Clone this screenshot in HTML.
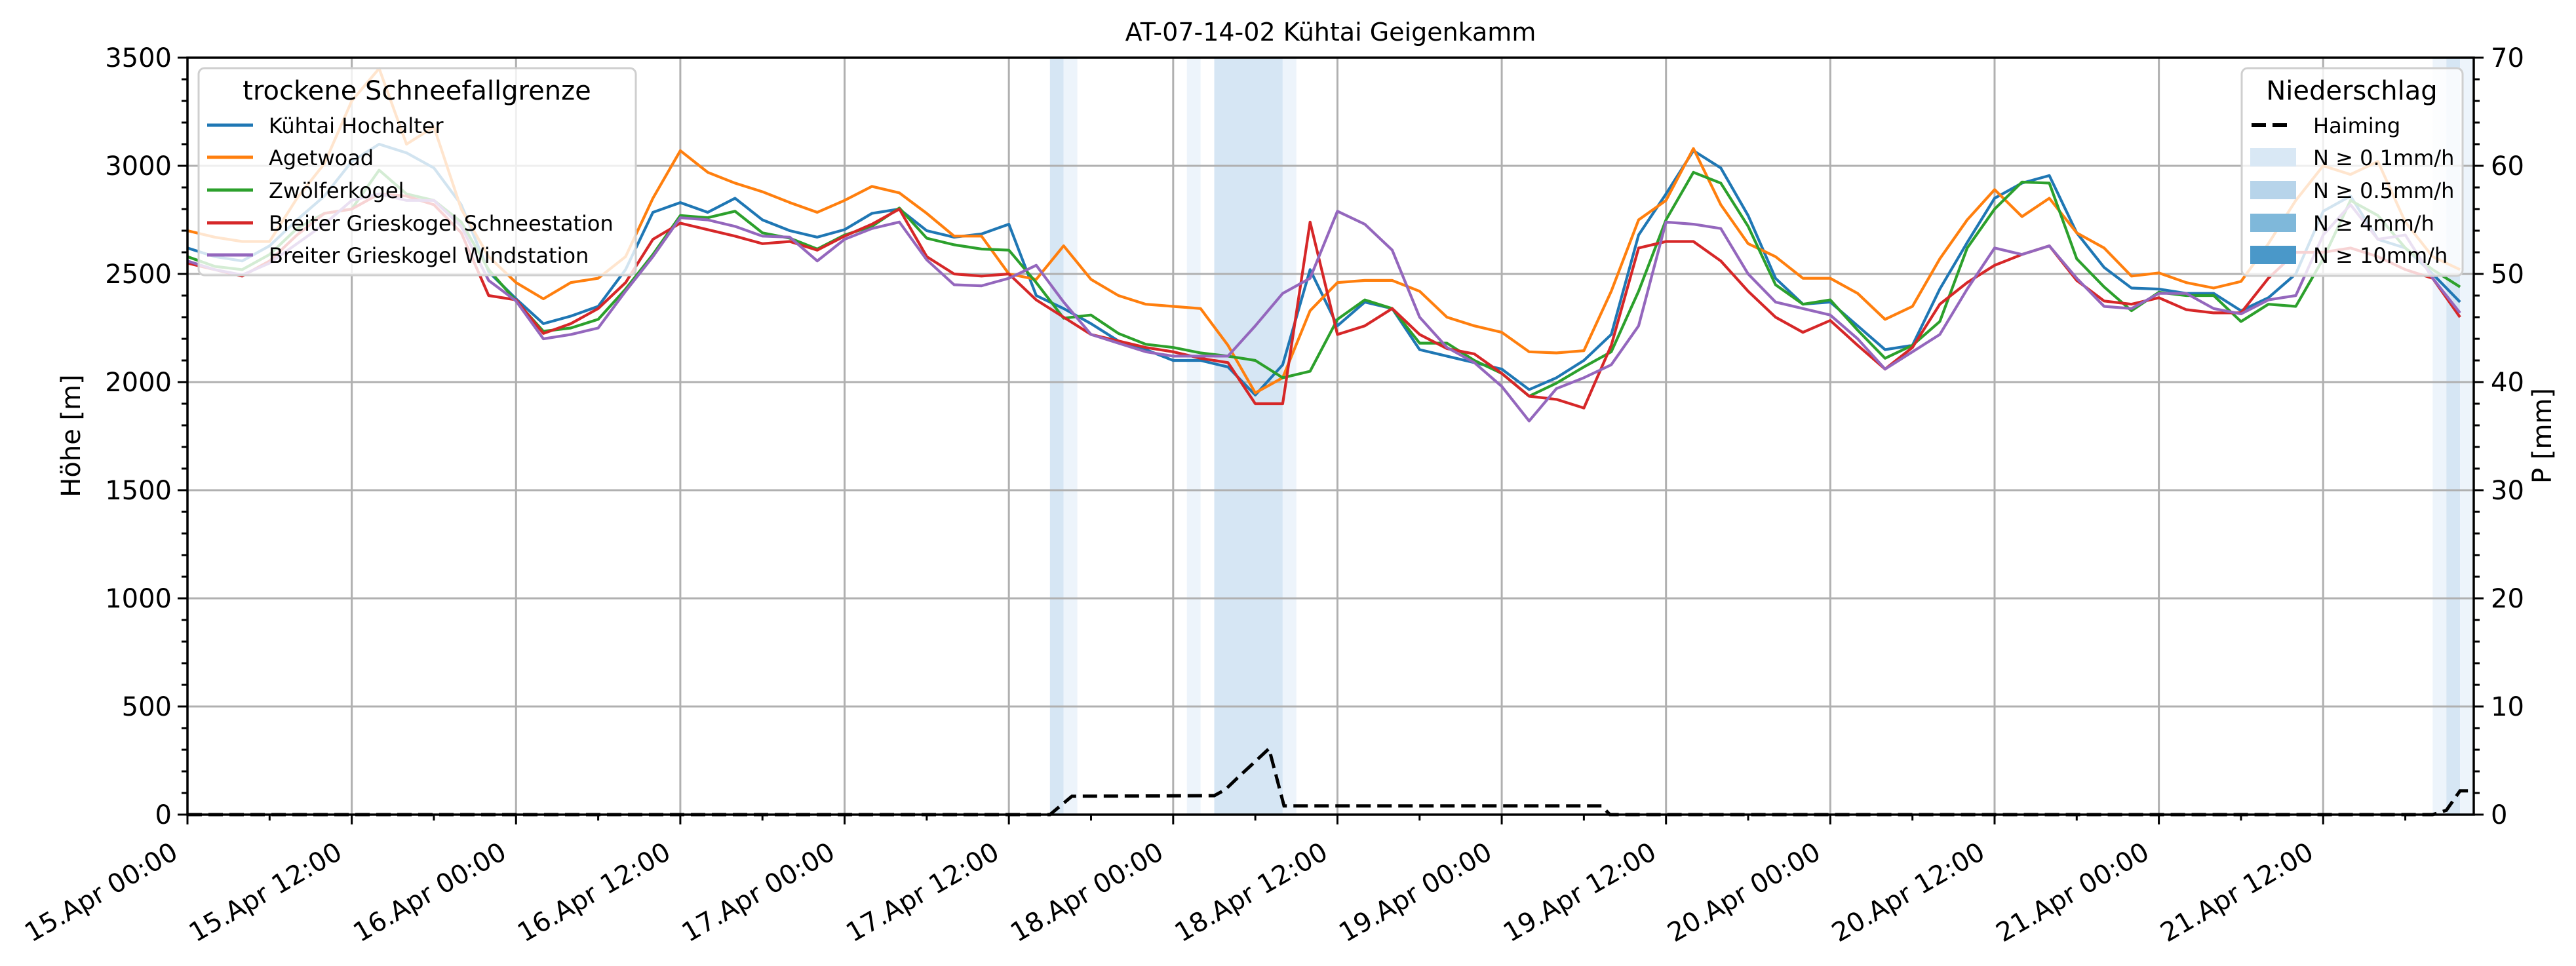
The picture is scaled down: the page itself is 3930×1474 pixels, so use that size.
<!DOCTYPE html>
<html><head><meta charset="utf-8"><style>
html,body{margin:0;padding:0;background:#fff;}
svg{display:block;font-family:"DejaVu Sans","Liberation Sans",sans-serif;}
</style></head><body>
<svg id="chart" width="3930" height="1474" viewBox="0 0 3930 1474" xmlns="http://www.w3.org/2000/svg">
<rect x="0" y="0" width="3930" height="1474" fill="#fff"/>
<g id="spans"></g>
<g id="grid"></g>
<g id="series"></g>
<g id="precip"></g>
<g id="axes"></g>
<text x="2030" y="62" font-size="38" text-anchor="middle">AT-07-14-02 Kühtai Geigenkamm</text>
<text transform="translate(122,665) rotate(-90)" font-size="40" text-anchor="middle">Höhe [m]</text>
<text transform="translate(3892,665) rotate(-90)" font-size="40" text-anchor="middle">P [mm]</text>
<g id="legend1">
<rect x="303" y="104" width="667" height="316" rx="9" fill="#fff" fill-opacity="0.8" stroke="#cfcfcf" stroke-width="3"/>
<text x="636" y="152" font-size="40" text-anchor="middle">trockene Schneefallgrenze</text>
</g>
<g id="legend2">
<rect x="3420" y="104" width="337" height="317" rx="9" fill="#fff" fill-opacity="0.8" stroke="#cfcfcf" stroke-width="3"/>
<text x="3588" y="152" font-size="40" text-anchor="middle">Niederschlag</text>
</g>
</svg>
<script>
const hours = [0,2,4,6,8,10,12,14,16,18,20,22,24,26,28,30,32,34,36,38,40,42,44,46,48,50,52,54,56,58,60,62,64,66,68,70,72,74,76,78,80,82,84,86,88,90,92,94,96,98,100,102,104,106,108,110,112,114,116,118,120,122,124,126,128,130,132,134,136,138,140,142,144,146,148,150,152,154,156,158,160,162,164,166];
const kuehtai = [2620,2580,2560,2630,2750,2860,3020,3100,3060,2990,2820,2510,2385,2270,2305,2350,2520,2785,2830,2785,2850,2750,2700,2670,2705,2780,2800,2700,2670,2685,2730,2400,2340,2270,2190,2150,2100,2100,2070,1940,2080,2520,2260,2370,2340,2150,2120,2090,2060,1965,2020,2100,2220,2680,2870,3070,2990,2770,2480,2360,2370,2260,2150,2170,2430,2645,2850,2920,2955,2690,2530,2435,2430,2410,2410,2330,2390,2500,2790,2860,2660,2620,2500,2370];
const agetwoad = [2700,2670,2650,2650,2850,3010,3300,3450,3100,3180,2800,2580,2460,2385,2460,2480,2580,2850,3070,2970,2920,2880,2830,2785,2840,2905,2875,2780,2675,2675,2500,2475,2630,2475,2400,2360,2350,2340,2170,1950,2020,2330,2460,2470,2470,2420,2300,2260,2230,2140,2135,2145,2420,2750,2840,3080,2820,2640,2580,2480,2480,2410,2290,2350,2570,2750,2890,2765,2850,2690,2620,2490,2505,2460,2435,2465,2640,2840,3000,2960,3020,2740,2580,2520];
const zwoelfer = [2580,2535,2520,2590,2710,2780,2800,2980,2870,2840,2740,2520,2375,2235,2250,2290,2430,2590,2770,2760,2790,2690,2665,2615,2680,2720,2805,2665,2635,2615,2610,2460,2295,2310,2225,2175,2160,2135,2120,2100,2020,2050,2290,2380,2340,2180,2180,2100,2040,1935,1995,2070,2140,2420,2750,2970,2920,2720,2450,2360,2380,2240,2110,2170,2280,2620,2800,2925,2920,2570,2440,2330,2415,2400,2400,2280,2360,2350,2570,2840,2770,2620,2520,2440];
const schneestation = [2550,2520,2490,2560,2680,2780,2800,2870,2860,2820,2690,2400,2380,2225,2270,2340,2460,2660,2735,2705,2675,2640,2650,2610,2675,2730,2800,2580,2500,2490,2500,2380,2300,2220,2190,2160,2140,2110,2090,1900,1900,2740,2220,2260,2340,2220,2155,2130,2040,1935,1920,1880,2170,2620,2650,2650,2560,2420,2300,2230,2285,2170,2060,2160,2360,2460,2540,2590,2630,2470,2375,2360,2390,2335,2320,2320,2480,2600,2600,2620,2580,2520,2480,2300];
const windstation = [2560,2520,2495,2550,2640,2730,2840,2870,2840,2840,2720,2470,2375,2200,2220,2250,2420,2580,2760,2750,2720,2675,2670,2560,2660,2710,2740,2565,2450,2445,2480,2540,2370,2220,2180,2140,2120,2120,2120,2260,2410,2480,2790,2730,2610,2300,2160,2090,1980,1820,1970,2020,2080,2260,2740,2730,2710,2500,2370,2340,2310,2200,2060,2140,2220,2430,2620,2590,2630,2480,2350,2340,2410,2410,2340,2315,2380,2400,2680,2820,2660,2680,2480,2320];
const precipHours = [0,63,64.6,75,75.8,76.7,77.9,79,80.1,103.3,103.9,164,165,166,167];
const precipMm = [0,0,1.7,1.75,2.3,3.4,4.8,6.1,0.8,0.8,0,0,0.4,2.2,2.2];
const spanStart = [63,64,73,75,80,164,165,166];
const spanEnd = [64,65,74,80,81,165,166,167];
const spanLevel = [2,1,1,2,1,1,2,1];
const yTicks = [0,500,1000,1500,2000,2500,3000,3500];
const y2Ticks = [0,10,20,30,40,50,60,70];
const xTickLabels = ["15.Apr 00:00","15.Apr 12:00","16.Apr 00:00","16.Apr 12:00","17.Apr 00:00","17.Apr 12:00","18.Apr 00:00","18.Apr 12:00","19.Apr 00:00","19.Apr 12:00","20.Apr 00:00","20.Apr 12:00","21.Apr 00:00","21.Apr 12:00"];
const seriesNames = ["Kühtai Hochalter","Agetwoad","Zwölferkogel","Breiter Grieskogel Schneestation","Breiter Grieskogel Windstation"];
const seriesColors = ["#1f77b4","#ff7f0e","#2ca02c","#d62728","#9467bd"];
const seriesData = [kuehtai, agetwoad, zwoelfer, schneestation, windstation];
const precipLabels = ["N ≥ 0.1mm/h","N ≥ 0.5mm/h","N ≥ 4mm/h","N ≥ 10mm/h"];
const precipColors = ["#d9e8f5","#b7d4ea","#7fb8da","#4a98c9"];

const L=286,R=3774,T=88,B=1243,XMAX=167;
const NS="http://www.w3.org/2000/svg";
const xs=h=>L+(R-L)*h/XMAX;
const ys=v=>B-(B-T)*v/3500;
const y2s=v=>B-(B-T)*v/70;
function mk(tag,attrs,parent){const e=document.createElementNS(NS,tag);for(const k in attrs)e.setAttribute(k,attrs[k]);parent.appendChild(e);return e;}
const gSp=document.getElementById('spans'),gGr=document.getElementById('grid'),gSe=document.getElementById('series'),gPr=document.getElementById('precip'),gAx=document.getElementById('axes');

for(let i=0;i<spanStart.length;i++){
  const r=mk('rect',{x:xs(spanStart[i]),y:T,width:xs(spanEnd[i])-xs(spanStart[i]),height:B-T,fill:spanLevel[i]==2?'#d6e6f4':'#edf4fb'},gSp);
  
  
}
for(let i=0;i<xTickLabels.length;i++){
  const x=xs(i*12);
  const l=mk('line',{x1:x,y1:T,x2:x,y2:B,stroke:'#b0b0b0','stroke-width':3},gGr);
  
  
}
yTicks.forEach(v=>{
  const l=mk('line',{x1:L,y1:ys(v),x2:R,y2:ys(v),stroke:'#b0b0b0','stroke-width':3},gGr);
  
  
});
seriesData.forEach((arr,si)=>{
  const pts=arr.map((v,i)=>xs(hours[i]).toFixed(1)+','+ys(v).toFixed(1)).join(' ');
  const p=mk('polyline',{points:pts,fill:'none',stroke:seriesColors[si],'stroke-width':4.2,'stroke-linejoin':'round'},gSe);
  
  
});
{
  const pts=precipMm.map((v,i)=>xs(precipHours[i]).toFixed(1)+','+y2s(v).toFixed(1)).join(' ');
  const p=mk('polyline',{points:pts,fill:'none',stroke:'#000','stroke-width':5,'stroke-dasharray':'22 10'},gPr);
  
  
}
// spines
const sp=mk('rect',{x:L,y:T,width:R-L,height:B-T,fill:'none',stroke:'#000','stroke-width':3.5},gAx);


// x ticks
for(let h=0;h<=XMAX;h+=6){
  const major=h%12===0;
  const t=mk('line',{x1:xs(h),y1:B,x2:xs(h),y2:B+(major?15:9),stroke:'#000','stroke-width':3},gAx);
  
  
}
xTickLabels.forEach((s,i)=>{
  const x=xs(i*12)-12,y=1308;
  const t=mk('text',{transform:`translate(${x},${y}) rotate(-30)`,'font-size':40,'text-anchor':'end'},gAx);
  t.textContent=s;
  
  
});
for(let v=0;v<=3500;v+=100){
  const major=v%500===0;
  const t=mk('line',{x1:L,y1:ys(v),x2:L-(major?15:9),y2:ys(v),stroke:'#000','stroke-width':3},gAx);
  
  
}
yTicks.forEach(v=>{
  const t=mk('text',{x:262,y:ys(v)+14,'font-size':40,'text-anchor':'end'},gAx);
  t.textContent=v;
  
  
});
for(let v=0;v<=70;v+=2){
  const major=v%10===0;
  const t=mk('line',{x1:R,y1:y2s(v),x2:R+(major?15:9),y2:y2s(v),stroke:'#000','stroke-width':3},gAx);
  
  
}
y2Ticks.forEach(v=>{
  const t=mk('text',{x:3800,y:y2s(v)+14,'font-size':40,'text-anchor':'start'},gAx);
  t.textContent=v;
  
  
});
// legends (drawn above lines)
const svg=document.getElementById('chart');
const lg1=document.getElementById('legend1'),lg2=document.getElementById('legend2');
svg.appendChild(lg1);svg.appendChild(lg2);
const rowsY=[191,240,290,340,389];
seriesNames.forEach((n,i)=>{
  const l=mk('line',{x1:316,y1:rowsY[i],x2:386,y2:rowsY[i],stroke:seriesColors[i],'stroke-width':5},lg1);
  
  
  const t=mk('text',{x:410,y:rowsY[i]+12,'font-size':32},lg1);
  t.textContent=n;
  
  
});
{
  const l=mk('line',{x1:3435,y1:191,x2:3491,y2:191,stroke:'#000','stroke-width':6,'stroke-dasharray':'22 10'},lg2);
  
  
  const t=mk('text',{x:3529,y:203,'font-size':32},lg2);
  t.textContent='Haiming';
  
  
}
precipLabels.forEach((s,i)=>{
  const y=rowsY[i+1];
  const r=mk('rect',{x:3433,y:y-14,width:70,height:28,fill:precipColors[i]},lg2);
  
  
  const t=mk('text',{x:3529,y:y+12,'font-size':32},lg2);
  t.textContent=s;
  
  
});
</script>
</body></html>
